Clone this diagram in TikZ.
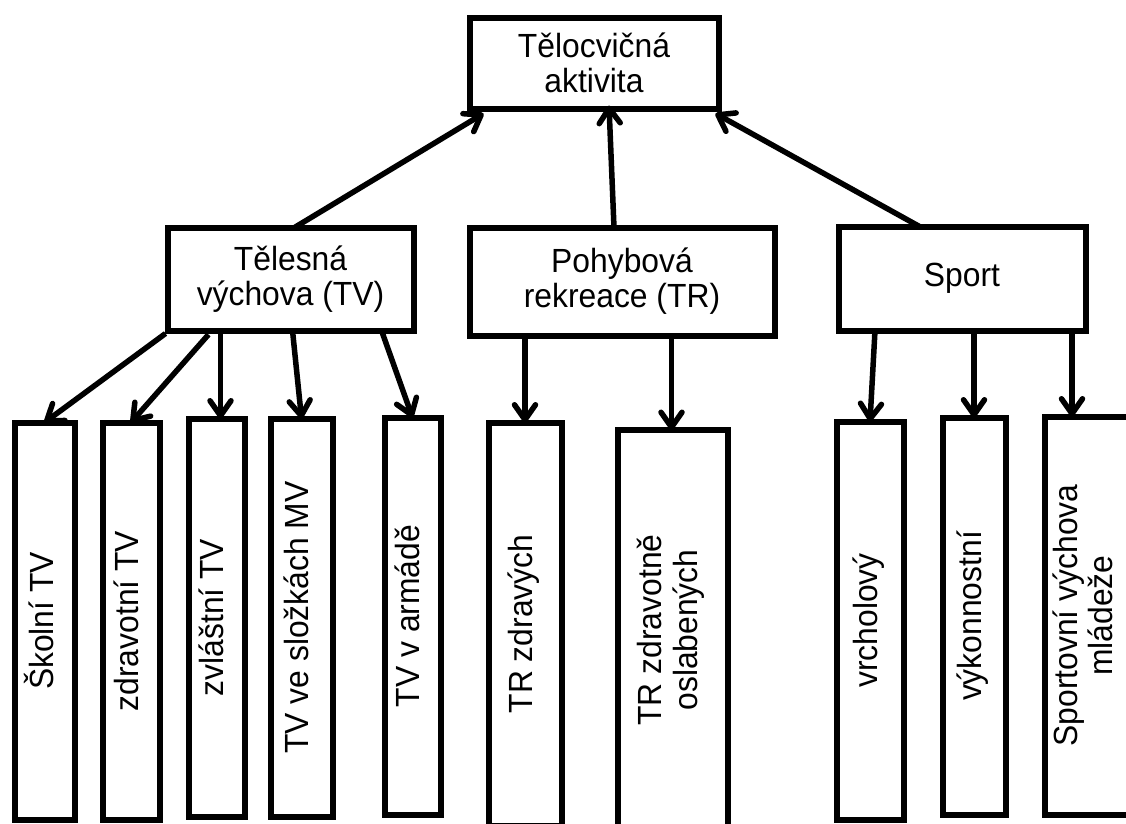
\documentclass[tikz,border=0pt]{standalone}
\usepackage{fontspec}
\setmainfont{Liberation Sans}[FakeStretch=0.95]
\usepackage{graphicx}
\usetikzlibrary{arrows.meta,calc}
\tikzset{
  box/.style={draw=black, line width=6pt, fill=white, inner sep=0pt, outer sep=0pt, align=center,
    font=\fontsize{33.5}{35}\selectfont},
  arr/.style={draw=black, line width=5.5pt, -{Straight Barb[length=15pt,width=21pt,round]}},
}
\newcommand{\vtext}[1]{\rotatebox{90}{\begin{tabular}{@{}c@{}}#1\end{tabular}}}
\begin{document}
\begin{tikzpicture}[x=1pt,y=-1pt]
\useasboundingbox (0,0) rectangle (1126,823);
\clip (0,0) rectangle (1126,823);
\fill[white] (0,0) rectangle (1126,823);
% top level
\node[box, minimum width=249pt, minimum height=91pt] (top) at (594,63) {Tělocvičná\\aktivita};
% middle level
\node[box, minimum width=246pt, minimum height=103pt] (TV) at (290.5,279) {Tělesná\\výchova (TV)};
\node[box, minimum width=305pt, minimum height=108pt] (TR) at (622,281.5) {Pohybová\\rekreace (TR)};
\node[box, minimum width=247pt, minimum height=104pt] (Sp) at (962,278.5) {Sport};
% bottom level
\node[box, minimum width=60pt, minimum height=397pt] (skol) at (44.5,621) {\vtext{Školní TV}};
\node[box, minimum width=57pt, minimum height=397pt] (zdrav) at (131,621) {\vtext{zdravotní TV}};
\node[box, minimum width=56pt, minimum height=398pt] (zvl) at (216.5,617.5) {\vtext{zvláštní TV}};
\node[box, minimum width=62pt, minimum height=398pt] (mv) at (301.5,617.5) {\vtext{TV ve složkách MV}};
\node[box, minimum width=56pt, minimum height=397pt] (arm) at (412.5,616) {\vtext{TV v armádě}};
\node[box, minimum width=73pt, minimum height=403pt] (trz) at (525,624) {\vtext{TR zdravých}};
\node[box, minimum width=110pt, minimum height=400pt] (tro) at (672.5,630) {\vtext{TR zdravotně\\oslabených}};
\node[box, minimum width=67pt, minimum height=398pt] (vrch) at (870,620.5) {\vtext{vrcholový}};
\node[box, minimum width=63pt, minimum height=397pt] (vyk) at (974,616) {\vtext{výkonnostní}};
\node[box, minimum width=87pt, minimum height=398pt] (spv) at (1088,615.5) {\vtext{Sportovní výchova\\mládeže}};
% arrows up
\draw[arr] ([xshift=4pt]TV.north) -- ([shift={(14,5)}]top.south west);
\draw[arr] ([xshift=-8pt]TR.north) -- ([shift={(15,-3)}]top.south);
\draw[arr] ([xshift=81pt]Sp.north west) -- ([shift={(-3,5)}]top.south east);
% arrows from TV
\draw[arr] ([shift={(-2,3)}]TV.south west) -- (skol.north);
\draw[arr] ([shift={(41,4)}]TV.south west) -- (zdrav.north);
\draw[arr] ([xshift=4pt]zvl.north |- TV.south) -- ([xshift=4pt]zvl.north);
\draw[arr] ([xshift=2pt]TV.south) -- (mv.north);
\draw[arr] ([xshift=-32pt]TV.south east) -- (arm.north);
% arrows from TR
\draw[arr] (trz.north |- TR.south) -- (trz.north);
\draw[arr] ([xshift=-1pt]tro.north |- TR.south) -- ([xshift=-1pt]tro.north);
% arrows from Sport
\draw[arr] ([xshift=5pt]vrch.north |- Sp.south) -- (vrch.north);
\draw[arr] (vyk.north |- Sp.south) -- (vyk.north);
\draw[arr] ([xshift=-16pt]spv.north |- Sp.south) -- ([xshift=-16pt]spv.north);
\end{tikzpicture}
\end{document}
